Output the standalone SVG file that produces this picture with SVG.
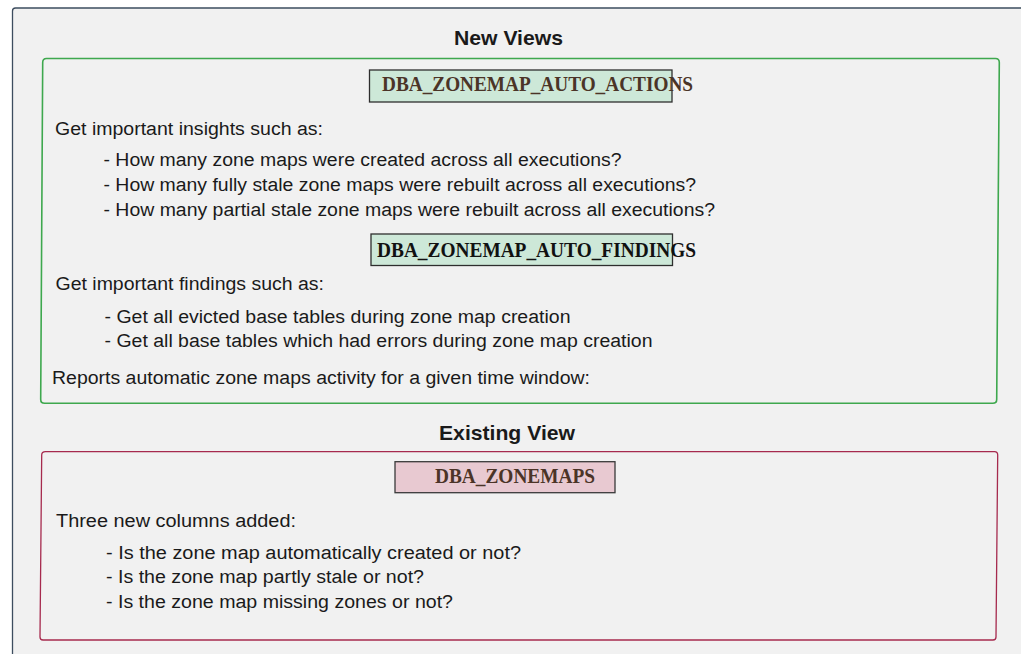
<svg xmlns="http://www.w3.org/2000/svg" width="1021" height="654" viewBox="0 0 1021 654">
  <style>
    .body { font-family: "Liberation Sans", Arial, sans-serif; font-size: 18px; fill: #1a1a1a; }
    .head { font-family: "Liberation Sans", Arial, sans-serif; font-size: 21px; font-weight: bold; fill: #1a1a1a; }
    .view { font-family: "Liberation Serif", "Times New Roman", serif; font-size: 20px; font-weight: bold; }
    .brown { fill: #4b3427; }
    .dark { fill: #111111; }
    .tag-green { fill: #cde8d8; stroke: #2e2e2e; stroke-width: 1.3; }
    .tag-pink { fill: #e8c9d1; stroke: #3a3a3a; stroke-width: 1.3; }
  </style>

  <rect width="1021" height="654" fill="#ffffff"/>

  <!-- outer panel -->
  <g id="panel">
    <rect x="12.5" y="8" width="1030" height="670" rx="3" fill="#f1f1f1" stroke="#3d4d5f" stroke-width="1.3"/>
  </g>

  <!-- new views section -->
  <g id="new-views">
    <text class="head" x="454" y="45" textLength="109" lengthAdjust="spacingAndGlyphs">New Views</text>
    <path d="M46.5,58.5 H995.5 Q999.3,58.5 999.3,62.5 L996.7,399.5 Q996.7,403.3 992.8,403.3 H44.6 Q40.7,403.3 40.7,399.5 L42.7,62.5 Q42.7,58.5 46.5,58.5 Z" fill="none" stroke="#3ea84e" stroke-width="1.6"/>

    <g id="auto-actions">
      <rect class="tag-green" x="369.5" y="70" width="302.5" height="32"/>
      <text class="view brown" x="382" y="91" textLength="311" lengthAdjust="spacingAndGlyphs">DBA_ZONEMAP_AUTO_ACTIONS</text>
    </g>
    <g id="insights">
      <text class="body" x="55" y="135" textLength="268" lengthAdjust="spacingAndGlyphs">Get important insights such as:</text>
      <text class="body" x="103.5" y="166" textLength="518" lengthAdjust="spacingAndGlyphs">- How many zone maps were created across all executions?</text>
      <text class="body" x="103.5" y="191" textLength="592.5" lengthAdjust="spacingAndGlyphs">- How many fully stale zone maps were rebuilt across all executions?</text>
      <text class="body" x="103.5" y="216" textLength="611.5" lengthAdjust="spacingAndGlyphs">- How many partial stale zone maps were rebuilt across all executions?</text>
    </g>

    <g id="auto-findings">
      <rect class="tag-green" x="371" y="234" width="301.5" height="31.5"/>
      <text class="view dark" x="377" y="257" textLength="319" lengthAdjust="spacingAndGlyphs">DBA_ZONEMAP_AUTO_FINDINGS</text>
    </g>
    <g id="findings">
      <text class="body" x="55.5" y="290" textLength="268.5" lengthAdjust="spacingAndGlyphs">Get important findings such as:</text>
      <text class="body" x="104.5" y="323" textLength="466" lengthAdjust="spacingAndGlyphs">- Get all evicted base tables during zone map creation</text>
      <text class="body" x="104.5" y="347" textLength="548" lengthAdjust="spacingAndGlyphs">- Get all base tables which had errors during zone map creation</text>
      <text class="body" x="52" y="383.5" textLength="538" lengthAdjust="spacingAndGlyphs">Reports automatic zone maps activity for a given time window:</text>
    </g>
  </g>

  <!-- existing view section -->
  <g id="existing-view">
    <text class="head" x="439" y="440" textLength="136" lengthAdjust="spacingAndGlyphs">Existing View</text>
    <path d="M45.5,451.7 H994.5 Q997.7,451.7 997.7,455 L996,637 Q996,640 993,640 H43 Q40,640 40,637 L41.7,455 Q41.7,451.7 45.5,451.7 Z" fill="none" stroke="#a62a4e" stroke-width="1.3"/>

    <g id="zonemaps">
      <rect class="tag-pink" x="395" y="461.7" width="220" height="31"/>
      <text class="view brown" x="435" y="483" textLength="160" lengthAdjust="spacingAndGlyphs">DBA_ZONEMAPS</text>
    </g>
    <g id="columns">
      <text class="body" x="56" y="527" textLength="240" lengthAdjust="spacingAndGlyphs">Three new columns added:</text>
      <text class="body" x="106" y="559" textLength="415" lengthAdjust="spacingAndGlyphs">- Is the zone map automatically created or not?</text>
      <text class="body" x="106" y="583" textLength="318" lengthAdjust="spacingAndGlyphs">- Is the zone map partly stale or not?</text>
      <text class="body" x="106" y="607.5" textLength="347" lengthAdjust="spacingAndGlyphs">- Is the zone map missing zones or not?</text>
    </g>
  </g>
</svg>
